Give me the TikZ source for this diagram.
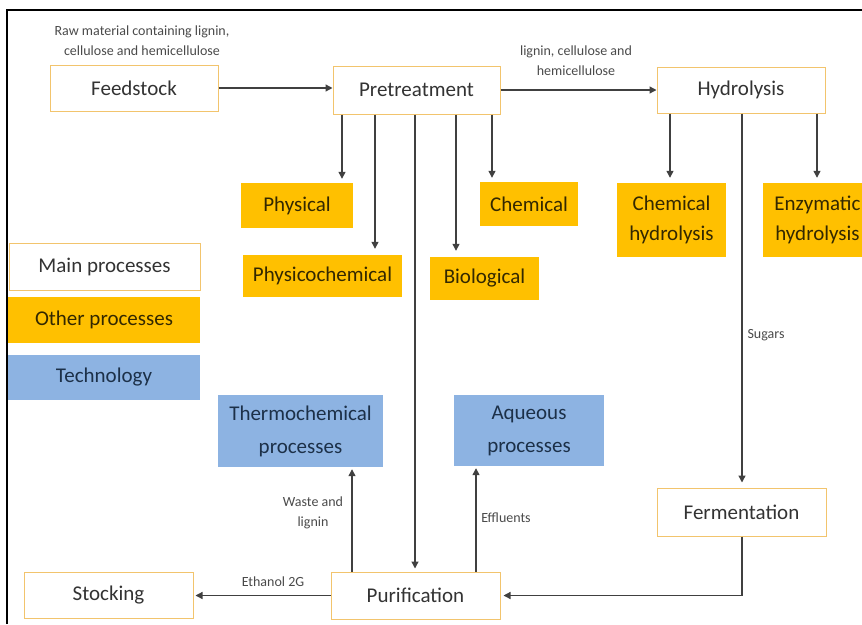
\documentclass[tikz,border=0pt]{standalone}
\usepackage{fontspec}
\setmainfont{Carlito}
\usetikzlibrary{arrows.meta}
\definecolor{gold}{HTML}{FFC000}
\definecolor{techblue}{HTML}{8DB3E2}
\definecolor{mainedge}{HTML}{F2C46D}
\definecolor{linec}{HTML}{404040}
\definecolor{txtmain}{HTML}{333333}
\definecolor{txtgold}{HTML}{332800}
\definecolor{txtblue}{HTML}{1C3048}
\definecolor{lblc}{HTML}{4A4A4A}
\begin{document}
\begin{tikzpicture}[x=1pt,y=-1pt,
 base/.style={inner sep=0pt, align=center, font=\fontsize{21}{30}\selectfont},
 mainbox/.style={base, fill=white, draw=mainedge, line width=1pt, text=txtmain},
 goldbox/.style={base, fill=gold, text=txtgold},
 techbox/.style={base, fill=techblue, text=txtblue, font=\fontsize{21}{33}\selectfont},
 lbl/.style={inner sep=0pt, align=center, text=lblc, font=\fontsize{14}{20}\selectfont},
 conn/.style={draw=linec, line width=1.3pt, -{Triangle[length=7pt,width=7pt]}},
]
\useasboundingbox (0,0) rectangle (862,624);

% main processes
\node[mainbox, minimum width=168pt, minimum height=46pt] (feed) at (134,88) {Feedstock};
\node[mainbox, minimum width=167pt, minimum height=48pt] (pre) at (416.5,90) {Pretreatment};
\node[mainbox, minimum width=168pt, minimum height=46pt] (hyd) at (741,90) {Hydrolysis};
\node[mainbox, minimum width=169pt, minimum height=48pt] (ferm) at (741.5,512) {Fermentation};
\node[mainbox, minimum width=169pt, minimum height=47pt] (purif) at (415.5,595.5) {Purification};
\node[mainbox, minimum width=169pt, minimum height=46pt] (stock) at (108.5,595) {Stocking};

% other processes
\node[goldbox, minimum width=112pt, minimum height=45pt] (phys) at (297,205.5) {Physical};
\node[goldbox, minimum width=159pt, minimum height=42pt] (physchem) at (322.5,276) {Physicochemical};
\node[goldbox, minimum width=109pt, minimum height=43pt] (bio) at (484.5,278.5) {Biological};
\node[goldbox, minimum width=98pt, minimum height=44pt] (chem) at (529,204) {Chemical};
\node[goldbox, minimum width=109pt, minimum height=74pt] (chemhyd) at (671.5,220) {Chemical\\hydrolysis};
\node[goldbox, minimum width=109pt, minimum height=74pt] (enzhyd) at (817.5,220) {Enzymatic\\hydrolysis};

% technology
\node[techbox, minimum width=165pt, minimum height=72pt] (thermo) at (300.5,431) {Thermochemical\\processes};
\node[techbox, minimum width=150pt, minimum height=71pt] (aque) at (529,430.5) {Aqueous\\processes};

% legend
\node[mainbox, minimum width=191pt, minimum height=47pt] (legmain) at (104.5,266.5) {Main processes};
\node[goldbox, minimum width=192pt, minimum height=46pt] (legother) at (104,320) {Other processes};
\node[techbox, minimum width=192pt, minimum height=45pt] (legtech) at (104,377.5) {Technology};

% labels
\node[lbl] (lraw) at (142,41) {Raw material containing lignin,\\cellulose and hemicellulose};
\node[lbl] (llig) at (576,61) {lignin, cellulose and\\hemicellulose};
\node[lbl] (lsug) at (766,335) {Sugars};
\node[lbl] (lwaste) at (313,513) {Waste and\\lignin};
\node[lbl] (leff) at (506,518) {Effluents};
\node[lbl] (leth) at (273,582) {Ethanol 2G};

% helper x positions
\coordinate (xa) at (342,0);
\coordinate (xb) at (375,0);
\coordinate (xc) at (415,0);
\coordinate (xd) at (456,0);
\coordinate (xe) at (492,0);
\coordinate (xf) at (670,0);
\coordinate (xg) at (742,0);
\coordinate (xh) at (817,0);
\coordinate (xi) at (352,0);
\coordinate (xj) at (476,0);

% connectors
\draw[conn] (feed.east) -- (feed.east -| pre.west);
\draw[conn] (pre.east) -- (pre.east -| hyd.west);
\draw[conn, shorten >=4pt] (pre.south -| xa) -- (phys.north -| xa);
\draw[conn, shorten >=6pt] (pre.south -| xb) -- (physchem.north -| xb);
\draw[conn, shorten >=3pt] (pre.south -| xc) -- (purif.north -| xc);
\draw[conn, shorten >=6pt] (pre.south -| xd) -- (bio.north -| xd);
\draw[conn, shorten >=4pt] (pre.south -| xe) -- (chem.north -| xe);
\draw[conn, shorten >=5pt] (hyd.south -| xf) -- (chemhyd.north -| xf);
\draw[conn, shorten >=5pt] (hyd.south -| xh) -- (enzhyd.north -| xh);
\draw[conn, shorten >=5pt] (hyd.south -| xg) -- (ferm.north -| xg);
\draw[conn, shorten >=3pt] (ferm.south -| xg) |- (purif.east);
\draw[conn, shorten >=2pt] (purif.west) -- (purif.west -| stock.east);
\draw[conn, shorten >=2pt] (purif.north -| xi) -- (thermo.south -| xi);
\draw[conn, shorten >=2pt] (purif.north -| xj) -- (aque.south -| xj);

% frame
\draw[line width=2pt, black] (7,624) -- (7,10) -- (862,10);
\end{tikzpicture}
\end{document}
